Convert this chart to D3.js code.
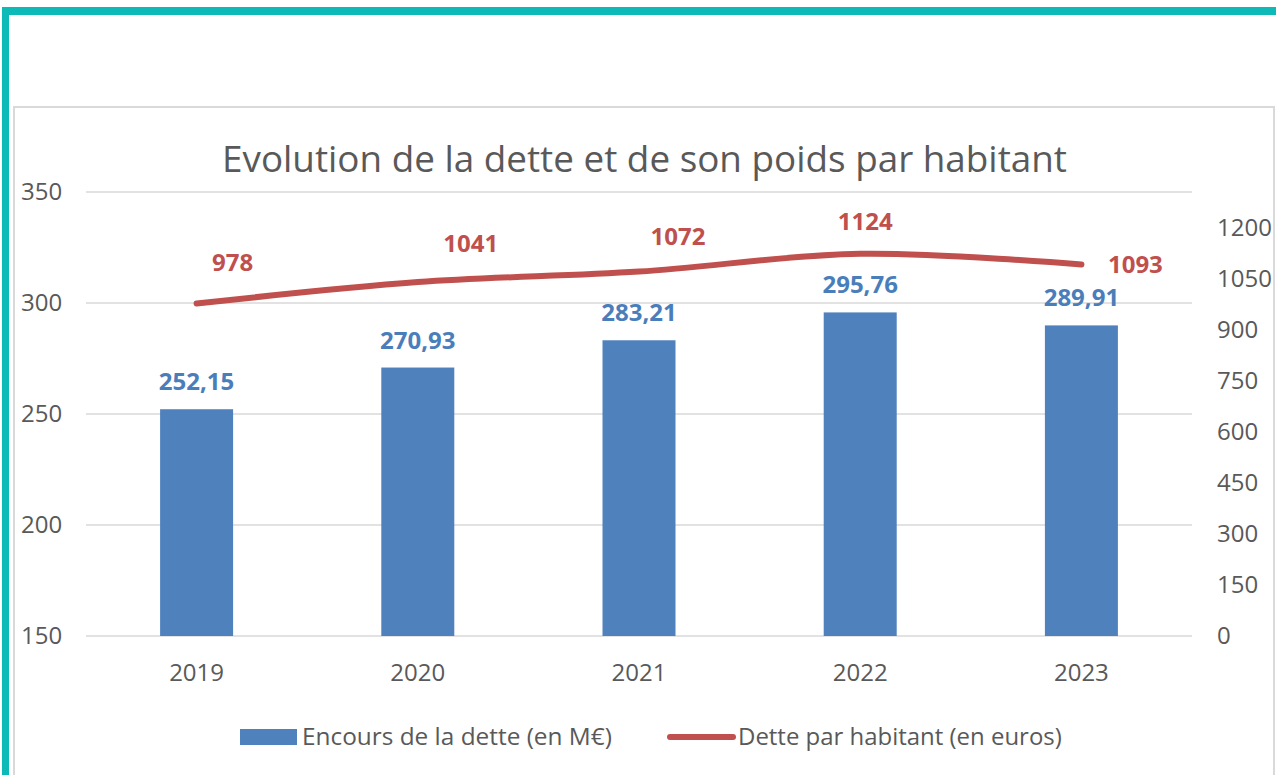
<!DOCTYPE html>
<html lang="fr">
<head>
<meta charset="UTF-8">
<script src="https://cdn.jsdelivr.net/npm/d3@7"></script>
<title>Evolution de la dette</title>
<style>
  body { margin: 0; background: #fff; font-family: "Open Sans", sans-serif; }
  svg { display: block; }
  .tick-label { fill: #595959; font-size: 24px; }
</style>
</head>
<body>
<div id="chart"></div>
<script>
// data
const years = ["2019", "2020", "2021", "2022", "2023"];
const encours = [252.15, 270.93, 283.21, 295.76, 289.91];     // M€
const parHabitant = [978, 1041, 1072, 1124, 1093];           // euros
const leftTicks = [150, 200, 250, 300, 350];
const rightTicks = [0, 150, 300, 450, 600, 750, 900, 1050, 1200];
// where Excel put the line labels (offset from the point)
const lineLabelOffsets = [[36, -41], [53, -38], [39, -35], [5, -32], [54, 0]];

const W = 1276, H = 775;
const blue = "#4F81BD", red = "#C0504D", grey = "#595959", gridCol = "#d9d9d9";

const svg = d3.select("#chart").append("svg")
  .attr("width", W).attr("height", H);

// teal frame (top + left)
svg.append("rect").attr("x", 2).attr("y", 7).attr("width", W - 2).attr("height", 8).attr("fill", "#0DBAB7");
svg.append("rect").attr("x", 2).attr("y", 7).attr("width", 7).attr("height", H - 7).attr("fill", "#0DBAB7");

// chart area border
svg.append("rect").attr("x", 14).attr("y", 107).attr("width", 1260).attr("height", H)
  .attr("fill", "none").attr("stroke", gridCol).attr("stroke-width", 2);

// fit text to a measured width
function fit(sel, target) {
  const len = sel.node().getComputedTextLength();
  const fs = parseFloat(sel.style("font-size"));
  sel.style("font-size", (fs * target / len) + "px");
}

const title = svg.append("text")
  .attr("x", 644.5).attr("y", 172).attr("text-anchor", "middle")
  .attr("fill", grey).style("font-size", "34px")
  .text("Evolution de la dette et de son poids par habitant");
fit(title, 845);

// scales
const x = d3.scaleBand().domain(years).range([86, 1192]).paddingInner(0.67).paddingOuter(0.335);
const yL = d3.scaleLinear().domain([150, 350]).range([636, 192]);
const yR = d3.scaleLinear().domain([0, 1306]).range([636, 192]);

// gridlines
svg.append("g").selectAll("line").data(leftTicks).join("line")
  .attr("x1", 86).attr("x2", 1192)
  .attr("y1", d => yL(d)).attr("y2", d => yL(d))
  .attr("stroke", gridCol).attr("stroke-width", 1.5);

// left axis labels
svg.append("g").selectAll("text").data(leftTicks).join("text")
  .attr("class", "tick-label")
  .attr("x", 21).attr("y", d => yL(d)).attr("dy", "0.35em")
  .text(d => d);

// right axis labels
svg.append("g").selectAll("text").data(rightTicks).join("text")
  .attr("class", "tick-label")
  .attr("x", 1217).attr("y", d => yR(d)).attr("dy", "0.35em")
  .text(d => d);

// x labels
svg.append("g").selectAll("text").data(years).join("text")
  .attr("class", "tick-label")
  .attr("x", d => x(d) + x.bandwidth() / 2).attr("y", 681)
  .attr("text-anchor", "middle")
  .text(d => d);

// bars
svg.append("g").selectAll("rect").data(encours).join("rect")
  .attr("x", (d, i) => x(years[i]))
  .attr("y", d => yL(d))
  .attr("width", x.bandwidth())
  .attr("height", d => yL(150) - yL(d))
  .attr("fill", blue);

// bar labels
svg.append("g").selectAll("text").data(encours).join("text")
  .attr("x", (d, i) => x(years[i]) + x.bandwidth() / 2)
  .attr("y", d => yL(d) - 19)
  .attr("text-anchor", "middle")
  .attr("fill", "#4A7EBB").style("font-size", "24px").style("font-weight", "bold")
  .text(d => d.toFixed(2).replace(".", ","));

// line
const cx = i => x(years[i]) + x.bandwidth() / 2;
const line = d3.line()
  .x((d, i) => cx(i))
  .y(d => yR(d))
  .curve(d3.curveCardinal.tension(0));
svg.append("path").datum(parHabitant)
  .attr("d", line)
  .attr("fill", "none").attr("stroke", red).attr("stroke-width", 6)
  .attr("stroke-linecap", "round").attr("stroke-linejoin", "round");

// line labels
svg.append("g").selectAll("text").data(parHabitant).join("text")
  .attr("x", (d, i) => cx(i) + lineLabelOffsets[i][0])
  .attr("y", (d, i) => yR(d) + lineLabelOffsets[i][1])
  .attr("dy", "0.35em")
  .attr("text-anchor", "middle")
  .attr("fill", red).style("font-size", "24px").style("font-weight", "bold")
  .text(d => d);

// legend
const lg = svg.append("g");
lg.append("rect").attr("x", 240).attr("y", 729).attr("width", 57).attr("height", 16).attr("fill", blue);
const t1 = lg.append("text").attr("x", 302).attr("y", 745)
  .attr("fill", grey).style("font-size", "24px").text("Encours de la dette (en M€)");
fit(t1, 310);
lg.append("line").attr("x1", 670).attr("x2", 733).attr("y1", 737).attr("y2", 737)
  .attr("stroke", red).attr("stroke-width", 6).attr("stroke-linecap", "round");
const t2 = lg.append("text").attr("x", 738).attr("y", 745)
  .attr("fill", grey).style("font-size", "24px").text("Dette par habitant (en euros)");
fit(t2, 324);
</script>
</body>
</html>
